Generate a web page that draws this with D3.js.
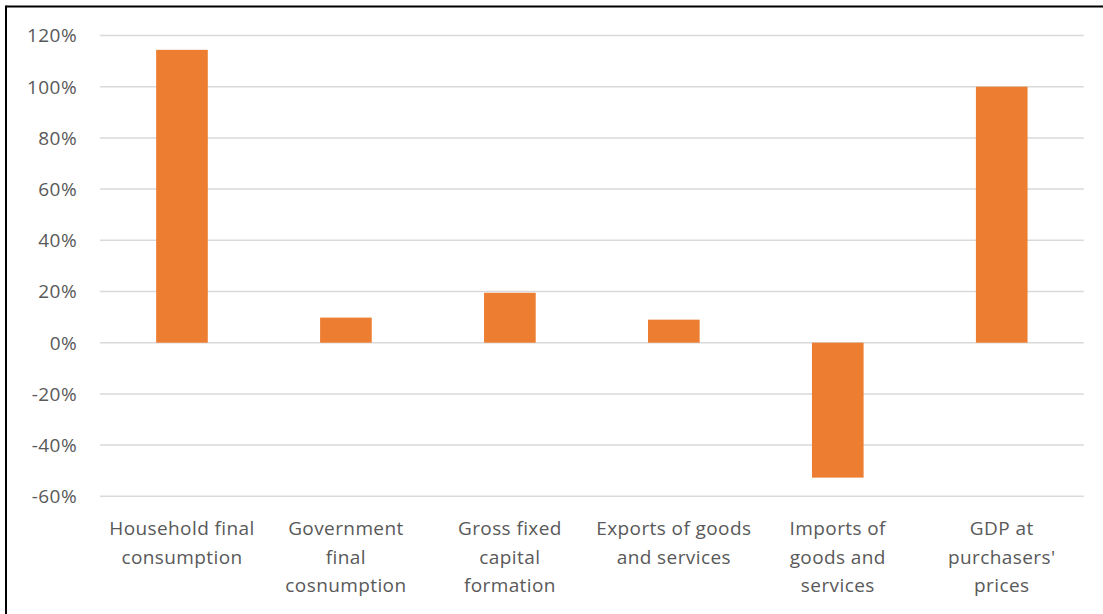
<!DOCTYPE html>
<html><head><meta charset="utf-8">
<script src="https://cdn.jsdelivr.net/npm/d3@7"></script>
<style>html,body{margin:0;padding:0;background:#fff;}svg{display:block;}</style>
</head><body>
<script>
const categories = [
  ["Household final", "consumption"],
  ["Government", "final", "cosnumption"],
  ["Gross fixed", "capital", "formation"],
  ["Exports of goods", "and services"],
  ["Imports of", "goods and", "services"],
  ["GDP at", "purchasers'", "prices"]
];
const values = [114.4, 9.8, 19.5, 9.0, -52.7, 100.0];
const yTicks = [-60, -40, -20, 0, 20, 40, 60, 80, 100, 120];

(function () {
const W = 1103, H = 614;
const svg = d3.select("body").append("svg").attr("width", W).attr("height", H);
svg.append("rect").attr("width", W).attr("height", H).attr("fill", "#fff");

const pLeft = 100, pRight = 1083.7, pTop = 35.5, pBottom = 496.3;
const y = d3.scaleLinear().domain([-60, 120]).range([pBottom, pTop]);
const x = d3.scaleBand().domain(categories.map((d, i) => i)).range([pLeft, pRight])
  .paddingInner(0.685).paddingOuter(0.3425);

const font = "Open Sans, sans-serif", fs = 19, ls = 0.4;

svg.append("g").selectAll("line").data(yTicks).join("line")
  .attr("x1", pLeft).attr("x2", pRight)
  .attr("y1", d => y(d)).attr("y2", d => y(d))
  .attr("stroke", "#d9d9d9").attr("stroke-width", 1.5);

svg.append("g").selectAll("text").data(yTicks).join("text")
  .attr("x", 77).attr("y", d => y(d)).attr("dy", "0.36em")
  .attr("text-anchor", "end")
  .attr("font-family", font).attr("font-size", fs).attr("letter-spacing", ls)
  .attr("fill", "#595959")
  .text(d => d + "%");

svg.append("g").selectAll("rect").data(values).join("rect")
  .attr("x", (d, i) => x(i)).attr("width", x.bandwidth())
  .attr("y", d => y(Math.max(0, d)))
  .attr("height", d => Math.abs(y(d) - y(0)))
  .attr("fill", "#ED7D31");

const cg = svg.append("g");
categories.forEach((lines, i) => {
  const cx = x(i) + x.bandwidth() / 2;
  const t = cg.append("text").attr("text-anchor", "middle")
    .attr("font-family", font).attr("font-size", fs).attr("letter-spacing", ls)
    .attr("fill", "#595959");
  lines.forEach((l, k) => {
    t.append("tspan").attr("x", cx).attr("y", 535 + k * 28.7).text(l);
  });
});

svg.append("line").attr("x1", 6).attr("x2", W).attr("y1", 6.5).attr("y2", 6.5)
  .attr("stroke", "#000").attr("stroke-width", 2);
svg.append("line").attr("x1", 6).attr("x2", 6).attr("y1", 5.5).attr("y2", H)
  .attr("stroke", "#000").attr("stroke-width", 2);
})();
</script>
</body></html>
